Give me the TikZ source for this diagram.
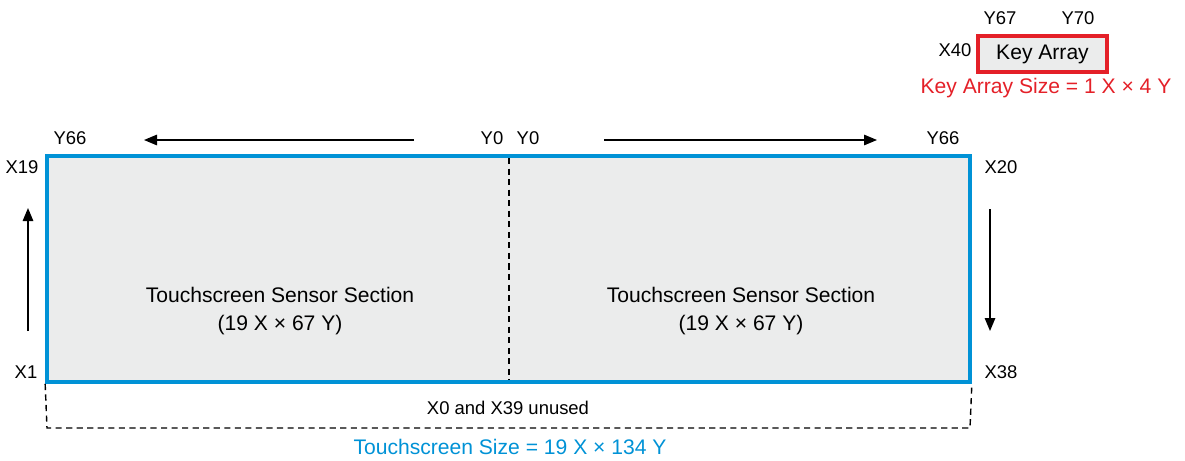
\documentclass[tikz,border=0pt]{standalone}
\usepackage{fontspec}
\setmainfont{Liberation Sans}
\usepackage{tikz}
\usetikzlibrary{arrows.meta, positioning, calc}
\definecolor{tsblue}{RGB}{0,146,214}
\definecolor{keyred}{RGB}{228,32,40}
\definecolor{panel}{RGB}{235,236,236}
\tikzstyle{arrow} = [thick,-{Triangle[length=2.6mm,width=2.1mm]}]
\tikzstyle{lbl} = [font=\fontsize{10.5}{12}\selectfont, inner sep=0pt]
\tikzstyle{unusedline} = [line width=0.8pt, dash pattern=on 3.5pt off 2.5pt]

\begin{document}
\begin{tikzpicture}[x=0.02cm, y=-0.02cm, every node/.style={font=\fontsize{12}{14}\selectfont}]
  \useasboundingbox (0,0) rectangle (1185,460);

  % Touchscreen sensor area
  \node[draw=tsblue, fill=panel, line width=2.2pt, minimum width=18.46cm, minimum height=4.52cm, inner sep=0pt] (screen) at (508.5,269) {};
  \draw[unusedline] (509,158) -- (509,380);

  % Unused rows
  \draw[unusedline] (screen.south west) -- (47,428) -- (970,428) -- (screen.south east);
  \node[lbl] (unused) at (508,408) {X0 and X39 unused};
  \node[text=tsblue] (tssize) at (510,447) {Touchscreen Size = 19 X × 134 Y};

  % Sections
  \node[align=center] (leftsec) at (280,311) {Touchscreen Sensor Section\\[2pt](19 X × 67 Y)};
  \node[align=center] (rightsec) at (741,311) {Touchscreen Sensor Section\\[2pt](19 X × 67 Y)};

  % Corner labels
  \node[lbl] (yl) at (70,138) {Y66};
  \node[lbl] (y0l) at (492,138) {Y0};
  \node[lbl] (y0r) at (528,138) {Y0};
  \node[lbl] (yr) at (943,138) {Y66};
  \node[lbl] (x19) at (22,167) {X19};
  \node[lbl] (x1) at (26,372) {X1};
  \node[lbl] (x20) at (1001,167) {X20};
  \node[lbl] (x38) at (1001,372) {X38};

  % Scan direction
  \coordinate (tlstart) at (414,140);
  \coordinate (tlend) at (144,140);
  \coordinate (trstart) at (604,140);
  \coordinate (trend) at (877,140);
  \coordinate (lstart) at (28,331);
  \coordinate (lend) at (28,208);
  \coordinate (rstart) at (990,209);
  \coordinate (rend) at (990,331);
  \draw[arrow] (tlstart) -- (tlend);
  \draw[arrow] (trstart) -- (trend);
  \draw[arrow] (lstart) -- (lend);
  \draw[arrow] (rstart) -- (rend);

  % Key array
  \node[draw=keyred, fill=panel, line width=2pt, minimum width=2.58cm, minimum height=0.72cm] (keys) at (1042.5,54) {Key Array};
  \node[lbl] (x40) at (955,50) {X40};
  \node[lbl] (y67) at (1000,18) {Y67};
  \node[lbl] (y70) at (1078,18) {Y70};
  \node[text=keyred] (keysize) at (1046,88) {Key Array Size = 1 X × 4 Y};
\end{tikzpicture}
\end{document}
